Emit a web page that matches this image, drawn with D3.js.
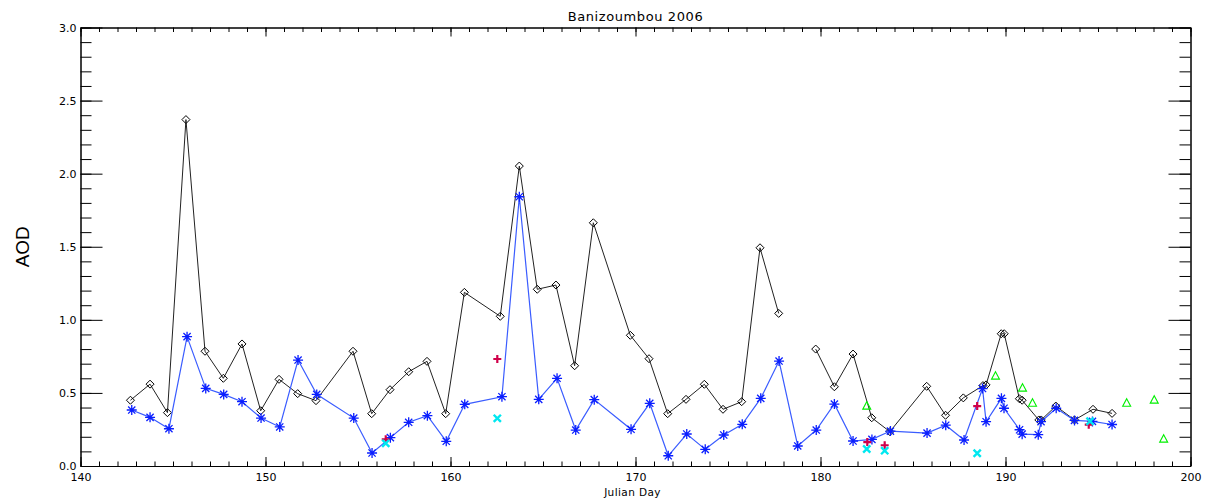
<!DOCTYPE html>
<html>
<head>
<meta charset="utf-8">
<script src="https://cdn.jsdelivr.net/npm/d3@7"></script>
<style>
  body { margin: 0; background: #fff; }
  svg { display: block; }
  .axis path, .axis line { stroke: #000; stroke-width: 1; }
  .axis text { font-family: "DejaVu Sans", sans-serif; font-size: 11px; fill: #000; }
</style>
</head>
<body>
<script>
// Banizoumbou 2006 - AOD vs Julian day

// black diamonds (null = missing day, breaks the line)
var blackDays = [142.7, 143.76, 144.7, 145.7, 146.73, 147.72, 148.73, 149.74, 150.73, 151.74,
    152.73, 154.73, 155.74, 156.73, 157.74, 158.73, 159.74, 160.75, 162.69, 163.72,
    164.69, 165.7, 166.71, 167.72, 169.72, 170.73, 171.74, 172.73, 173.72, 174.73,
    175.74, 176.73, 177.74, 178.77, 179.74, 180.75, 181.76, 182.77, 183.75, 185.74,
    186.76, 187.72, 188.78, 188.95, 189.77, 189.93, 190.75, 190.9, 191.8, 191.93,
    192.72, 193.73, 194.73, 195.76];
var blackAod = [0.45, 0.56, 0.365, 2.37, 0.785, 0.60, 0.835, 0.378, 0.593, 0.495,
    0.447, 0.785, 0.358, 0.522, 0.645, 0.716, 0.358, 1.188, 1.024, 2.052,
    1.209, 1.238, 0.686, 1.664, 0.894, 0.734, 0.358, 0.456, 0.559, 0.388,
    0.44, 1.493, 1.044, null, 0.80, 0.542, 0.766, 0.33, 0.235, 0.545,
    0.347, 0.466, 0.55, 0.555, 0.905, 0.905, 0.46, 0.45, 0.315, 0.315,
    0.41, 0.315, 0.388, 0.36];

// blue asterisks
var blueDays = [142.77, 143.76, 144.78, 145.76, 146.77, 147.74, 148.73, 149.76, 150.77, 151.76,
    152.77, 154.77, 155.76, 156.75, 157.74, 158.75, 159.77, 160.77, 162.78, 163.72,
    164.77, 165.76, 166.77, 167.77, 169.76, 170.77, 171.77, 172.77, 173.77, 174.77,
    175.77, 176.77, 177.76, 178.77, 179.77, 180.75, 181.76, 182.78, 183.78, 185.76,
    186.77, 187.76, 188.76, 188.95, 189.78, 189.92, 190.76, 190.9, 191.77, 191.92,
    192.74, 193.73, 194.7, 195.76];
var blueAod = [0.383, 0.333, 0.255, 0.885, 0.531, 0.49, 0.44, 0.328, 0.267, 0.725,
    0.49, 0.328, 0.089, 0.194, 0.299, 0.344, 0.169, 0.422, 0.474, 1.842,
    0.456, 0.6, 0.246, 0.454, 0.251, 0.429, 0.07, 0.219, 0.114, 0.212,
    0.285, 0.463, 0.718, 0.137, 0.246, 0.424, 0.171, 0.182, 0.239, 0.225,
    0.279, 0.178, 0.53, 0.303, 0.463, 0.395, 0.248, 0.218, 0.214, 0.303,
    0.395, 0.312, 0.305, 0.284];

// red plus
var plusDays = [156.5, 162.53, 182.53, 183.47, 188.47, 194.5];
var plusAod = [0.183, 0.732, 0.164, 0.142, 0.41, 0.283];

// cyan crosses
var crossDays = [156.5, 162.53, 182.5, 183.47, 188.47, 194.57];
var crossAod = [0.155, 0.326, 0.116, 0.105, 0.087, 0.306];

// green triangles
var triDays = [182.5, 189.46, 190.92, 191.46, 196.55, 198.04, 198.55];
var triAod = [0.413, 0.618, 0.536, 0.433, 0.433, 0.454, 0.187];

var xTicks = [140, 150, 160, 170, 180, 190, 200];
var yTicks = [0.0, 0.5, 1.0, 1.5, 2.0, 2.5, 3.0];

var WIDTH = 1208, HEIGHT = 501;
var MARGINS = { top: 27.5, right: 17.5, bottom: 35, left: 80.5 };

var xScale = d3.scaleLinear().domain([140, 200]).range([MARGINS.left, WIDTH - MARGINS.right]);
var yScale = d3.scaleLinear().domain([0, 3]).range([HEIGHT - MARGINS.bottom, MARGINS.top]);

var svg = d3.select("body").append("svg")
    .attr("width", WIDTH)
    .attr("height", HEIGHT);

function zip(days, vals) {
    return days.map(function(d, i) { return [d, vals[i]]; });
}

var blackPts = zip(blackDays, blackAod);
var bluePts = zip(blueDays, blueAod);

var lineGen = d3.line()
    .defined(function(d) { return d[1] != null; })
    .x(function(d) { return xScale(d[0]); })
    .y(function(d) { return yScale(d[1]); });

// minor ticks every day / every 0.1
var xMinor = d3.range(140, 201, 1);
var yMinor = d3.range(0, 3.01, 0.1);

var bottomY = yScale(0), topY = yScale(3);
var leftX = xScale(140), rightX = xScale(200);

svg.append("g").attr("class", "axis")
    .attr("transform", "translate(0," + bottomY + ")")
    .call(d3.axisBottom(xScale).tickValues(xMinor).tickSize(-4.5).tickSizeOuter(0).tickFormat(""));
svg.append("g").attr("class", "axis")
    .attr("transform", "translate(0," + bottomY + ")")
    .call(d3.axisBottom(xScale).tickValues(xTicks).tickSize(-9).tickSizeOuter(0).tickPadding(7)
        .tickFormat(d3.format("d")));
svg.append("g").attr("class", "axis")
    .attr("transform", "translate(0," + topY + ")")
    .call(d3.axisTop(xScale).tickValues(xMinor).tickSize(-4.5).tickSizeOuter(0).tickFormat(""));
svg.append("g").attr("class", "axis")
    .attr("transform", "translate(0," + topY + ")")
    .call(d3.axisTop(xScale).tickValues(xTicks).tickSize(-9).tickSizeOuter(0).tickFormat(""));

svg.append("g").attr("class", "axis")
    .attr("transform", "translate(" + leftX + ",0)")
    .call(d3.axisLeft(yScale).tickValues(yMinor).tickSize(-11).tickSizeOuter(0).tickFormat(""));
svg.append("g").attr("class", "axis")
    .attr("transform", "translate(" + leftX + ",0)")
    .call(d3.axisLeft(yScale).tickValues(yTicks).tickSize(-22).tickSizeOuter(0).tickPadding(4)
        .tickFormat(d3.format(".1f")));
svg.append("g").attr("class", "axis")
    .attr("transform", "translate(" + rightX + ",0)")
    .call(d3.axisRight(yScale).tickValues(yMinor).tickSize(-11).tickSizeOuter(0).tickFormat(""));
svg.append("g").attr("class", "axis")
    .attr("transform", "translate(" + rightX + ",0)")
    .call(d3.axisRight(yScale).tickValues(yTicks).tickSize(-22).tickSizeOuter(0).tickFormat(""));

// texts
svg.append("text")
    .attr("x", (leftX + rightX) / 2)
    .attr("y", 21)
    .attr("text-anchor", "middle")
    .attr("font-family", "DejaVu Sans, sans-serif")
    .attr("font-size", "13px")
    .attr("letter-spacing", "0.6px")
    .text("Banizoumbou 2006");

svg.append("text")
    .attr("x", (leftX + rightX) / 2 - 3)
    .attr("y", 496)
    .attr("text-anchor", "middle")
    .attr("font-family", "DejaVu Sans, sans-serif")
    .attr("font-size", "10.5px")
    .attr("letter-spacing", "0.4px")
    .text("Julian Day");

svg.append("text")
    .attr("transform", "translate(29," + ((topY + bottomY) / 2) + ") rotate(-90)")
    .attr("text-anchor", "middle")
    .attr("font-family", "Liberation Sans, Arial, sans-serif")
    .attr("font-size", "19px")
    .text("AOD");

// black line + diamonds
svg.append("path")
    .attr("d", lineGen(blackPts))
    .attr("fill", "none")
    .attr("stroke", "#222")
    .attr("stroke-width", 1);

svg.append("g").selectAll("path")
    .data(blackPts.filter(function(d) { return d[1] != null; }))
    .enter().append("path")
    .attr("d", function(d) {
        var x = xScale(d[0]), y = yScale(d[1]), r = 4;
        return "M" + x + "," + (y - r) + "L" + (x + r) + "," + y + "L" + x + "," + (y + r) + "L" + (x - r) + "," + y + "Z";
    })
    .attr("fill", "none")
    .attr("stroke", "#000")
    .attr("stroke-width", 1);

// blue line + asterisks
svg.append("path")
    .attr("d", lineGen(bluePts))
    .attr("fill", "none")
    .attr("stroke", "#3a5cff")
    .attr("stroke-width", 1.2);

svg.append("g").selectAll("path")
    .data(bluePts)
    .enter().append("path")
    .attr("d", function(d) {
        var x = xScale(d[0]), y = yScale(d[1]), r = 5, q = 3.6;
        return "M" + (x - r) + "," + y + "L" + (x + r) + "," + y +
            "M" + x + "," + (y - r) + "L" + x + "," + (y + r) +
            "M" + (x - q) + "," + (y - q) + "L" + (x + q) + "," + (y + q) +
            "M" + (x - q) + "," + (y + q) + "L" + (x + q) + "," + (y - q);
    })
    .attr("fill", "none")
    .attr("stroke", "#0a1eff")
    .attr("stroke-width", 1.3);

// red plus
svg.append("g").selectAll("path")
    .data(zip(plusDays, plusAod))
    .enter().append("path")
    .attr("d", function(d) {
        var x = xScale(d[0]), y = yScale(d[1]), r = 4;
        return "M" + (x - r) + "," + y + "L" + (x + r) + "," + y +
            "M" + x + "," + (y - r) + "L" + x + "," + (y + r);
    })
    .attr("fill", "none")
    .attr("stroke", "#d0004a")
    .attr("stroke-width", 2.2);

// cyan crosses
svg.append("g").selectAll("path")
    .data(zip(crossDays, crossAod))
    .enter().append("path")
    .attr("d", function(d) {
        var x = xScale(d[0]), y = yScale(d[1]), r = 3.6;
        return "M" + (x - r) + "," + (y - r) + "L" + (x + r) + "," + (y + r) +
            "M" + (x - r) + "," + (y + r) + "L" + (x + r) + "," + (y - r);
    })
    .attr("fill", "none")
    .attr("stroke", "#00e8f0")
    .attr("stroke-width", 2.4);

// green triangles
svg.append("g").selectAll("path")
    .data(zip(triDays, triAod))
    .enter().append("path")
    .attr("d", function(d) {
        var x = xScale(d[0]), y = yScale(d[1]), r = 4;
        return "M" + x + "," + (y - r) + "L" + (x + r) + "," + (y + r - 0.5) + "L" + (x - r) + "," + (y + r - 0.5) + "Z";
    })
    .attr("fill", "none")
    .attr("stroke", "#00f000")
    .attr("stroke-width", 1.1);
</script>
</body>
</html>
